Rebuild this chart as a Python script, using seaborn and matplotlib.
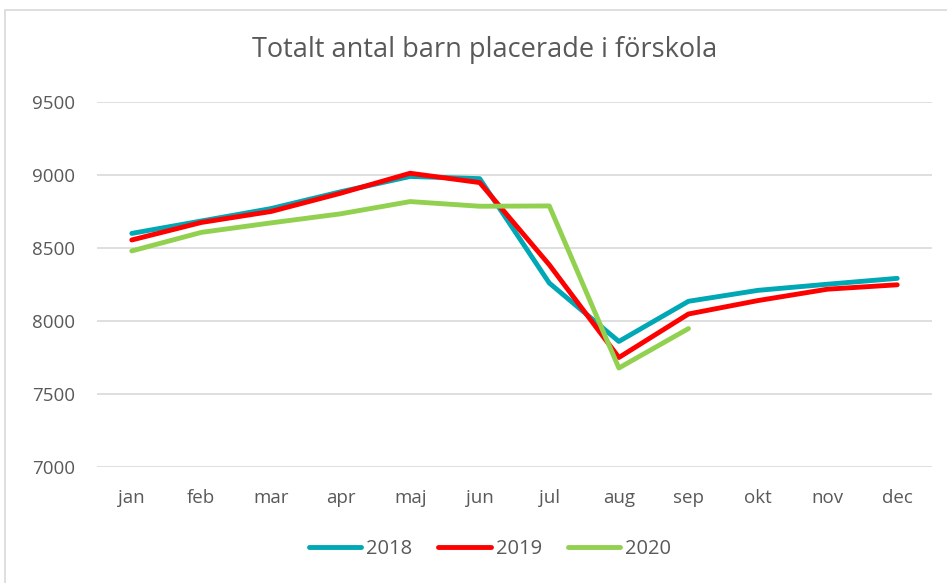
import matplotlib
matplotlib.use("Agg")
import matplotlib.pyplot as plt
import pandas as pd
import seaborn as sns
from matplotlib.patches import Rectangle

months = ["jan", "feb", "mar", "apr", "maj", "jun", "jul", "aug", "sep", "okt", "nov", "dec"]
values_2018 = [8600, 8685, 8770, 8885, 8990, 8975, 8260, 7860, 8135, 8210, 8252, 8292]
values_2019 = [8555, 8675, 8750, 8875, 9012, 8948, 8385, 7750, 8048, 8140, 8218, 8248]
values_2020 = [8480, 8607, 8672, 8734, 8818, 8786, 8788, 7678, 7948]

COLORS = {"2018": "#00A7B5", "2019": "#FF0000", "2020": "#92D050"}
TEXT_COLOR = "#595959"
GRID_COLOR = "#D9D9D9"

frames = []
for year, vals in [("2018", values_2018), ("2019", values_2019), ("2020", values_2020)]:
    frames.append(pd.DataFrame({"month": months[: len(vals)], "pos": range(len(vals)),
                                "value": vals, "year": year}))
df = pd.concat(frames, ignore_index=True)

sns.set_theme(style="white")
plt.rcParams["font.family"] = ["Open Sans", "DejaVu Sans"]

fig = plt.figure(figsize=(9.47, 5.83), dpi=100)
ax = fig.add_axes([97 / 947, 1 - 467 / 583, (932 - 97) / 947, (467 - 102) / 583])

fig.patches.append(Rectangle((5 / 947, -0.1), 1.1, 1 - 10 / 583 + 0.1,
                             transform=fig.transFigure, fill=False,
                             edgecolor=GRID_COLOR, lw=1.2))

sns.lineplot(data=df, x="pos", y="value", hue="year", palette=COLORS,
             lw=3.5, ax=ax, solid_capstyle="round", legend=False)

ax.set_xlim(-0.5, 11.5)
ax.set_ylim(7000, 9500)
ax.set_yticks([7000, 7500, 8000, 8500, 9000, 9500])
ax.set_xticks(range(len(months)))
ax.set_xticklabels(months)
ax.tick_params(axis="both", colors=TEXT_COLOR, labelsize=13.5, length=0)
ax.tick_params(axis="x", pad=16)
ax.tick_params(axis="y", pad=16)
ax.grid(axis="y", color=GRID_COLOR, lw=1.2)
ax.set_axisbelow(True)
for side in ["top", "right", "left", "bottom"]:
    ax.spines[side].set_visible(False)
ax.set_xlabel("")
ax.set_ylabel("")

fig.text(485 / 947, 1 - 50 / 583, "Totalt antal barn placerade i förskola",
         ha="center", va="center", fontsize=19.5, color=TEXT_COLOR)

handles = [plt.Line2D([], [], color=COLORS[y], lw=3.5, solid_capstyle="round") for y in COLORS]
fig.legend(handles, list(COLORS), loc="center", bbox_to_anchor=(490 / 947, 1 - 549 / 583),
           ncol=3, frameon=False, fontsize=14.5, labelcolor=TEXT_COLOR,
           handlelength=2.6, handletextpad=0.25, columnspacing=1.3)

fig.savefig("out.png", dpi=100)
